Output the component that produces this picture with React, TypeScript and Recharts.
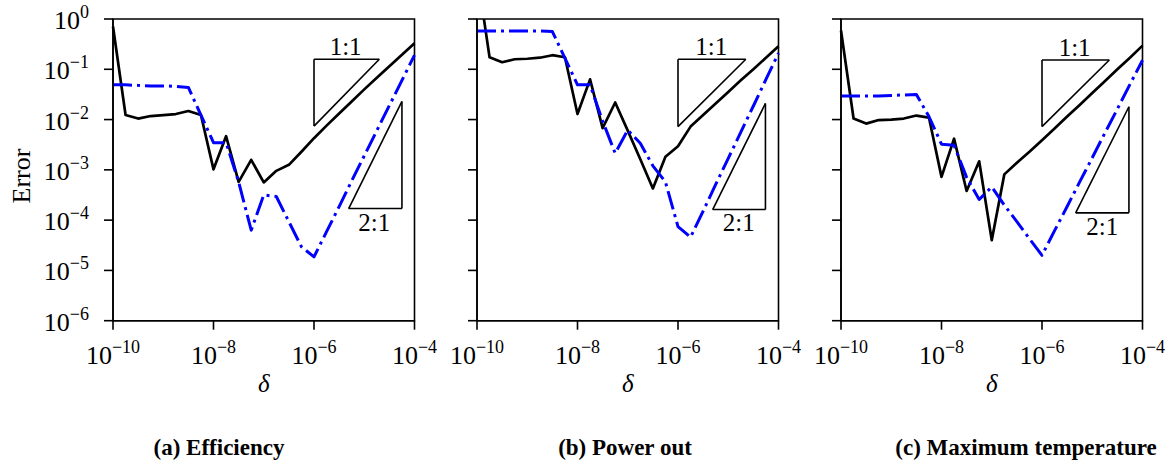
import { LineChart, Line, XAxis, YAxis, ReferenceLine, ReferenceArea, ReferenceDot } from 'recharts';

// log10(delta) sample positions
const deltaExp = [
    -10, -9.75, -9.5, -9.25, -9, -8.75, -8.5, -8.25, -8, -7.75, -7.5, -7.25, -7,
    -6.75, -6.5, -6.25, -6, -5.75, -5.5, -5.25, -5, -4.75, -4.5, -4.25, -4,
];
const xTicks = [-10, -8, -6, -4];
const yTicks = [0, -1, -2, -3, -4, -5, -6];

// log10(error)
const effBlack = [
    -0.15, -1.91, -1.98, -1.93, -1.91, -1.89, -1.83, -1.91, -2.99, -2.33, -3.24, -2.8, -3.25,
    -3.02, -2.9, -2.64, -2.37, -2.12, -1.88, -1.64, -1.4, -1.17, -0.94, -0.71, -0.48,
];
const effBlue = [
    -1.31, -1.31, -1.32, -1.33, -1.33, -1.34, -1.36, -1.91, -2.46, -2.46, -3.24, -4.2, -3.5,
    -3.53, -4.03, -4.53, -4.73, -4.23, -3.73, -3.22, -2.72, -2.22, -1.72, -1.22, -0.72,
];
const powBlack = [
    0.93, -0.76, -0.86, -0.8, -0.79, -0.77, -0.72, -0.76, -1.89, -1.2, -2.17, -1.66, -2.22,
    -2.79, -3.37, -2.74, -2.53, -2.14, -1.91, -1.68, -1.45, -1.22, -1.0, -0.77, -0.54,
];
const powBlue = [
    -0.24, -0.24, -0.24, -0.24, -0.24, -0.24, -0.25, -0.78, -1.31, -1.31, -2.03, -2.67, -2.21,
    -2.47, -2.92, -3.24, -4.13, -4.34, -3.82, -3.29, -2.77, -2.25, -1.73, -1.2, -0.68,
];
const tempBlack = [
    -0.23, -1.98, -2.08, -2.01, -2.0, -1.98, -1.92, -1.96, -3.14, -2.38, -3.42, -2.83, -4.4,
    -3.09, -2.86, -2.64, -2.41, -2.18, -1.94, -1.71, -1.47, -1.24, -1.0, -0.77, -0.53,
];
const tempBlue = [
    -1.53, -1.53, -1.53, -1.53, -1.52, -1.51, -1.5, -1.94, -2.49, -2.51, -3.15, -3.59, -3.34,
    -3.7, -4.03, -4.37, -4.7, -4.21, -3.73, -3.24, -2.76, -2.27, -1.79, -1.3, -0.82,
];

const captions = ['(a) Efficiency', '(b) Power out', '(c) Maximum temperature'];

const SERIF = '"Liberation Serif", "Times New Roman", serif';
const AXIS = { stroke: '#000', strokeWidth: 1.6 };

const expText = (v: number) => (v < 0 ? `\u2212${-v}` : `${v}`);

const XTick = (props: any) => {
    const { x, y, payload } = props;
    return (
        <text x={x} y={y + 32.6} textAnchor="middle" fontFamily={SERIF} fontSize={26} fill="#000">
            10<tspan dy={-11} fontSize={18}>{expText(payload.value)}</tspan>
        </text>
    );
};

const YTick = (props: any) => {
    const { x, y, payload } = props;
    return (
        <text x={x - 13} y={y + 10} textAnchor="end" fontFamily={SERIF} fontSize={26} fill="#000">
            10<tspan dy={-11} fontSize={18}>{expText(payload.value)}</tspan>
        </text>
    );
};

const NoTick = () => <g />;

interface Slopes {
    one: { x0: number; x1: number; top: number; bot: number; lx: number; ly: number };
    two: { x0: number; x1: number; top: number; bot: number; lx: number; ly: number };
}

interface PanelProps {
    left: number;
    black: number[];
    blue: number[];
    slopes: Slopes;
    showY: boolean;
}

function Panel ({ left, black, blue, slopes, showY }: PanelProps) {
    const rows = deltaExp.map((x, i) => ({ x, black: black[i], blue: blue[i] }));
    const { one, two } = slopes;
    const tri = { stroke: '#000', strokeWidth: 1.6 };
    const label = (text: string) => (p: any) => (
        <text x={p.cx} y={p.cy} textAnchor="middle" fontFamily={SERIF} fontSize={25} fill="#000">{text}</text>
    );

    return (
        <div style={{ position: 'absolute', left, top: 0 }}>
            <LineChart width={443.5} height={463} data={rows} margin={{ top: 19, right: 30, bottom: 42.3, left: 12 }}>
                <XAxis
                    type="number"
                    dataKey="x"
                    domain={[-10, -4]}
                    ticks={xTicks}
                    interval={0}
                    height={100}
                    tickSize={9}
                    tickMargin={2}
                    axisLine={AXIS}
                    tickLine={AXIS}
                    tick={<XTick />}
                    label={{
                        content: (p: any) => (
                            <text
                                x={p.viewBox.x + p.viewBox.width / 2}
                                y={p.viewBox.y + 71.3}
                                textAnchor="middle"
                                fontFamily={SERIF}
                                fontStyle="italic"
                                fontSize={25}
                                fill="#000"
                            >
                                δ
                            </text>
                        ),
                    }}
                />
                <YAxis
                    type="number"
                    domain={[-6, 0]}
                    ticks={yTicks}
                    interval={0}
                    width={100}
                    allowDataOverflow
                    tickSize={9}
                    tickMargin={2}
                    axisLine={AXIS}
                    tickLine={AXIS}
                    tick={showY ? <YTick /> : <NoTick />}
                    label={showY ? {
                        content: (p: any) => {
                            const cx = p.viewBox.x + 17.3;
                            const cy = p.viewBox.y + 157;
                            return (
                                <text
                                    x={cx}
                                    y={cy}
                                    transform={`rotate(-90 ${cx} ${cy})`}
                                    textAnchor="middle"
                                    fontFamily={SERIF}
                                    fontSize={26}
                                    fill="#000"
                                >
                                    Error
                                </text>
                            );
                        },
                    } : undefined}
                />
                <ReferenceArea x1={-10} x2={-4} y1={-6} y2={0} fill="none" fillOpacity={0} stroke="#000" strokeWidth={1.6} />

                <ReferenceLine segment={[{ x: one.x0, y: one.top }, { x: one.x1, y: one.top }]} {...tri} />
                <ReferenceLine segment={[{ x: one.x0, y: one.top }, { x: one.x0, y: one.bot }]} {...tri} />
                <ReferenceLine segment={[{ x: one.x0, y: one.bot }, { x: one.x1, y: one.top }]} {...tri} />
                <ReferenceLine segment={[{ x: two.x0, y: two.bot }, { x: two.x1, y: two.bot }]} {...tri} />
                <ReferenceLine segment={[{ x: two.x1, y: two.bot }, { x: two.x1, y: two.top }]} {...tri} />
                <ReferenceLine segment={[{ x: two.x0, y: two.bot }, { x: two.x1, y: two.top }]} {...tri} />

                <Line
                    dataKey="black"
                    type="linear"
                    stroke="#000"
                    strokeWidth={2.7}
                    strokeLinejoin="round"
                    dot={false}
                    activeDot={false}
                    isAnimationActive={false}
                />
                <Line
                    dataKey="blue"
                    type="linear"
                    stroke="#0000ff"
                    strokeWidth={3}
                    strokeDasharray="19 5 3 5"
                    strokeLinejoin="round"
                    dot={false}
                    activeDot={false}
                    isAnimationActive={false}
                />

                <ReferenceDot x={one.lx} y={one.ly} r={0} shape={label('1:1')} />
                <ReferenceDot x={two.lx} y={two.ly} r={0} shape={label('2:1')} />
            </LineChart>
        </div>
    );
}

const slopesA: Slopes = {
    one: { x0: -6, x1: -4.7, top: -0.8, bot: -2.13, lx: -5.37, ly: -0.716 },
    two: { x0: -5.31, x1: -4.25, top: -1.64, bot: -3.77, lx: -4.8, ly: -4.21 },
};
const slopesB: Slopes = {
    one: { x0: -6, x1: -4.65, top: -0.8, bot: -2.14, lx: -5.34, ly: -0.716 },
    two: { x0: -5.31, x1: -4.26, top: -1.68, bot: -3.79, lx: -4.79, ly: -4.21 },
};
const slopesC: Slopes = {
    one: { x0: -6, x1: -4.66, top: -0.816, bot: -2.14, lx: -5.35, ly: -0.73 },
    two: { x0: -5.33, x1: -4.27, top: -1.745, bot: -3.855, lx: -4.8, ly: -4.3 },
};

export default function App () {
    const captionX = [219, 625, 1026];
    return (
        <div style={{ position: 'absolute', left: 0, top: 0, width: 1173, height: 463, overflow: 'hidden', background: '#fff' }}>
            <Panel left={0.7} black={effBlack} blue={effBlue} slopes={slopesA} showY />
            <Panel left={364.7} black={powBlack} blue={powBlue} slopes={slopesB} showY={false} />
            <Panel left={729} black={tempBlack} blue={tempBlue} slopes={slopesC} showY={false} />
            <svg width={1173} height={463} style={{ position: 'absolute', left: 0, top: 0, pointerEvents: 'none' }}>
                {captions.map((c, i) => (
                    <text
                        key={c}
                        x={captionX[i]}
                        y={455}
                        textAnchor="middle"
                        fontFamily={SERIF}
                        fontWeight="bold"
                        fontSize={23}
                        fill="#000"
                    >
                        {c}
                    </text>
                ))}
            </svg>
        </div>
    );
}
